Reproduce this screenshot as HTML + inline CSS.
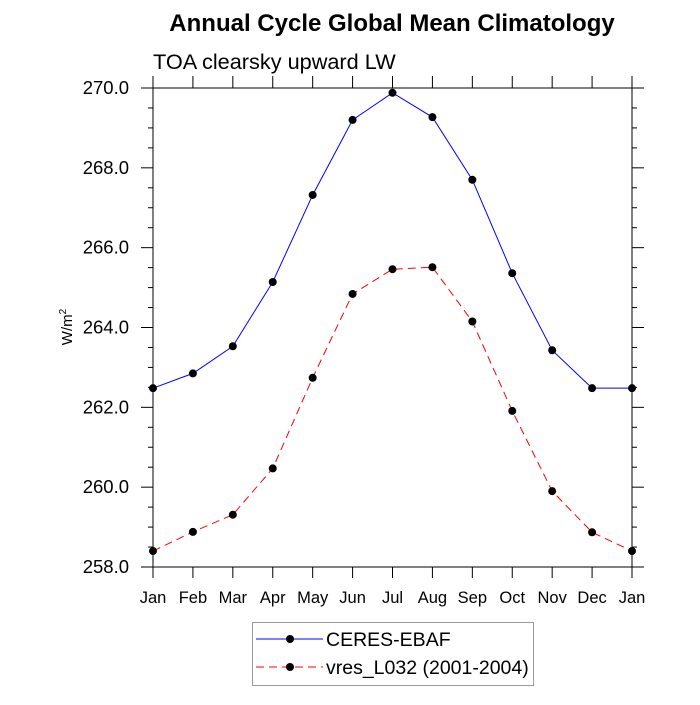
<!DOCTYPE html>
<html><head><meta charset="utf-8"><style>
body{margin:0;background:#fff}
svg text{font-family:"Liberation Sans",sans-serif}
</style></head><body>
<svg id="c" width="700" height="700">
<text x="392" y="31" text-anchor="middle" font-size="24" font-weight="bold">Annual Cycle Global Mean Climatology</text>
<text x="153" y="69" font-size="21.7">TOA clearsky upward LW</text>
<text transform="translate(72,327) rotate(-90)" text-anchor="middle" font-size="15">W/m<tspan font-size="10" dy="-6">2</tspan></text>
<g id="ax"></g><g id="series"></g>
<g>
<rect x="252.5" y="622.5" width="281" height="63" fill="#fff" stroke="#999"/>
<g>
<line x1="256" y1="639" x2="323" y2="639" stroke="#0000ff" stroke-width="1"/><circle cx="290" cy="639" r="4" fill="#000"/>
<text x="326" y="646" font-size="19.5">CERES-EBAF</text></g>
<g>
<line x1="256" y1="667" x2="323" y2="667" stroke="#ff0000" stroke-dasharray="8,5"/><circle cx="290" cy="667" r="4" fill="#000"/>
<text x="326" y="674" font-size="19.5">vres_L032 (2001-2004)</text></g>
</g>
</svg>
<script>
const months=["Jan","Feb","Mar","Apr","May","Jun","Jul","Aug","Sep","Oct","Nov","Dec","Jan"];
const ceres=[262.48,262.85,263.53,265.14,267.32,269.2,269.88,269.27,267.7,265.36,263.43,262.48,262.48];
const model=[258.4,258.88,259.31,260.47,262.74,264.84,265.46,265.51,264.15,261.91,259.9,258.87,258.4];
const yTicks=[258,260,262,264,266,268,270];
const NS="http://www.w3.org/2000/svg";
const L=153,R=632,T=88,B=567,ymin=258,ymax=270;
const xs=i=>L+(R-L)*i/12;
const ys=v=>B-(v-ymin)/(ymax-ymin)*(B-T);
function mk(tag,at,parent){const e=document.createElementNS(NS,tag);for(const k in at)e.setAttribute(k,at[k]);parent.appendChild(e);return e;}
const ax=document.getElementById('ax');
const frame=mk('rect',{x:L,y:T,width:R-L,height:B-T,fill:'none',stroke:'#000','stroke-width':1},ax);


for(let v=ymin;v<=ymax+1e-9;v+=0.5){
  const maj=Math.abs(v-Math.round(v/2)*2)<1e-9;const len=maj?12:5;const y=ys(v);
  mk('line',{x1:L-len,y1:y,x2:L,y2:y,stroke:'#000'},ax);
  mk('line',{x1:R,y1:y,x2:R+len,y2:y,stroke:'#000'},ax);
}
yTicks.forEach(v=>{const t=mk('text',{x:L-24,y:ys(v)+6,'text-anchor':'end','font-size':18.5},ax);t.textContent=v.toFixed(1);

});
months.forEach((m,i)=>{const x=xs(i);
  mk('line',{x1:x,y1:B,x2:x,y2:B+11,stroke:'#000'},ax);
  mk('line',{x1:x,y1:T-12,x2:x,y2:T,stroke:'#000'},ax);
  const t=mk('text',{x:x,y:B+36,'text-anchor':'middle','font-size':16.5},ax);t.textContent=m;
  
  });
const sg=document.getElementById('series');
function draw(data,color,dash,name){
  const p=mk('polyline',{points:data.map((v,i)=>xs(i)+','+ys(v)).join(' '),fill:'none',stroke:color,'stroke-width':1,'stroke-dasharray':dash},sg);
  
  
  data.forEach((v,i)=>{const c=mk('circle',{cx:xs(i),cy:ys(v),r:4,fill:'#000'},sg);
    
    });
}
draw(ceres,'#0000ff','none','ceres');
draw(model,'#ff0000','8,5','model');
</script>
</body></html>
